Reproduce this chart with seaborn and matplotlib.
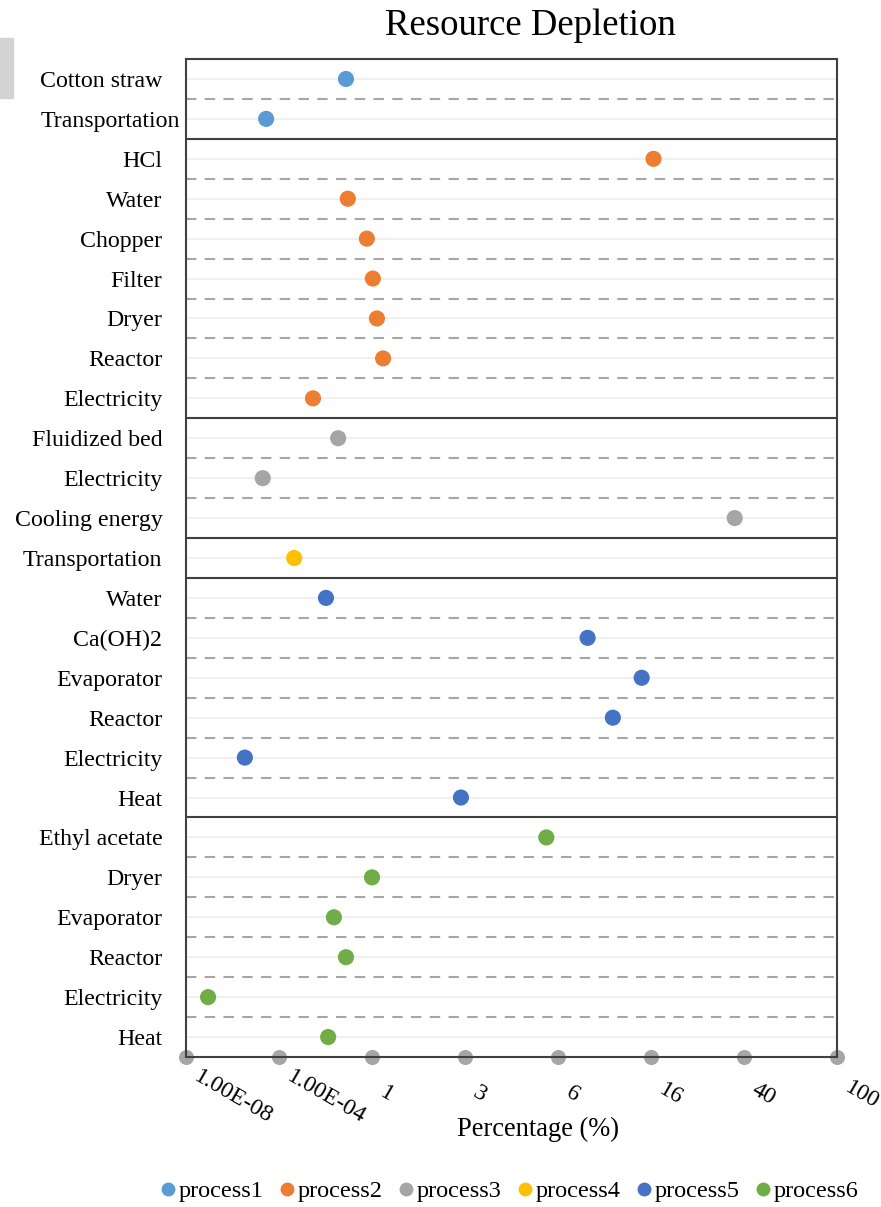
import numpy as np
import pandas as pd
import matplotlib
matplotlib.use('Agg')
import matplotlib.pyplot as plt
import matplotlib.transforms as mtransforms
from matplotlib.lines import Line2D
from matplotlib.patches import Rectangle
import seaborn as sns

# data
processes = ['process1'] * 2 + ['process2'] * 7 + ['process3'] * 3 + ['process4'] * 1 \
    + ['process5'] * 6 + ['process6'] * 6
items = ['Cotton straw', 'Transportation',
         'HCl', 'Water', 'Chopper', 'Filter', 'Dryer', 'Reactor', 'Electricity',
         'Fluidized bed', 'Electricity', 'Cooling energy',
         'Transportation',
         'Water', 'Ca(OH)2', 'Evaporator', 'Reactor', 'Electricity', 'Heat',
         'Ethyl acetate', 'Dryer', 'Evaporator', 'Reactor', 'Electricity', 'Heat']
percent = [0.076, 2.8e-5,
           16.4, 0.091, 0.6, 1.01, 1.06, 1.14, 0.0029,
           0.035, 2.0e-5, 36.5,
           4.5e-4,
           0.0105, 8.2, 14.5, 10.7, 3.4e-6, 2.86,
           5.5, 1.0, 0.023, 0.076, 8.9e-8, 0.013]

tick_vals = [1e-8, 1e-4, 1, 3, 6, 16, 40, 100]
tick_labels = ['1.00E-08', '1.00E-04', '1', '3', '6', '16', '40', '100']

palette = {'process1': '#5B9BD5', 'process2': '#ED7D31', 'process3': '#A5A5A5',
           'process4': '#FFC000', 'process5': '#4472C4', 'process6': '#70AD47'}

df = pd.DataFrame({'process': processes, 'item': items, 'value': percent})
df['row'] = np.arange(len(df))

sns.set_style('white')
plt.rcParams['font.family'] = ['Liberation Serif', 'DejaVu Serif']
plt.rcParams['text.color'] = 'black'
plt.rcParams['xtick.color'] = 'black'
plt.rcParams['ytick.color'] = 'black'
plt.rcParams['axes.labelcolor'] = 'black'

# piecewise log axis: equally spaced ticks at the chosen values
log_ticks = np.log10(tick_vals)
idx = np.arange(len(tick_vals), dtype=float)


def fwd(x):
    x = np.clip(np.asarray(x, dtype=float), 1e-12, None)
    return np.interp(np.log10(x), log_ticks, idx)


def inv(p):
    return 10 ** np.interp(np.asarray(p, dtype=float), idx, log_ticks)


fig = plt.figure(figsize=(8.81, 12.07), dpi=100)
ax = fig.add_axes([186 / 881, 1 - 1057 / 1207, (837 - 186) / 881, (1057 - 59) / 1207])
ax.set_xscale('function', functions=(fwd, inv))

n = len(df)
# light row lines, dashed separators, solid group borders
for r in range(n):
    ax.axhline(r, color='#f0f0f0', lw=1.5, zorder=0)
for r in range(n - 1):
    if df['process'][r] != df['process'][r + 1]:
        ax.axhline(r + 0.5, color='#404040', lw=1.5, zorder=1)
    else:
        ax.axhline(r + 0.5, color='#a6a6a6', lw=1.5, ls=(0, (5, 4)), zorder=1)

sns.scatterplot(data=df, x='value', y='row', hue='process', palette=palette,
                s=135, edgecolor='none', legend=False, ax=ax, zorder=3)

ax.set_xlim(1e-8, 100)
ax.set_ylim(n - 0.5, -0.5)
ax.set_yticks(range(n))
ax.set_yticklabels(df['item'], fontsize=17.2)
ax.tick_params(axis='y', left=False, length=0, pad=17)
ax.set_ylabel('')
# the first "Transportation" label sticks out to the right in the original
lab = ax.get_yticklabels()[1]
lab.set_transform(lab.get_transform()
                  + mtransforms.ScaledTranslation(18 / 100, 0, fig.dpi_scale_trans))

ax.set_xticks(tick_vals)
ax.set_xticklabels(tick_labels, fontsize=17, rotation=-30, ha='left', va='top',
                   rotation_mode='anchor')
ax.tick_params(axis='x', bottom=True, length=0, pad=0)
for t, lab in zip(ax.xaxis.get_major_ticks(), ax.get_xticklabels()):
    t.tick1line.set_marker('o')
    t.tick1line.set_markersize(10)
    t.tick1line.set_markerfacecolor('#a6a6a6')
    t.tick1line.set_markeredgecolor('#a6a6a6')
    t.tick1line.set_zorder(5)
    dy = 27 - 2.2 * len(lab.get_text())
    lab.set_transform(lab.get_transform()
                      + mtransforms.ScaledTranslation(15 / 100, -dy / 100, fig.dpi_scale_trans))

ax.set_xlabel('Percentage (%)', fontsize=19.1)
ax.xaxis.set_label_coords((538 - 186) / (837 - 186), -0.060)

for sp in ax.spines.values():
    sp.set_color('#404040')
    sp.set_linewidth(1.5)

fig.text(530 / 881, 1 - 35 / 1207, 'Resource Depletion', fontsize=26.5,
         ha='center', va='baseline')

# the grey block in the upper-left corner
fig.patches.append(Rectangle((0, 1 - 98 / 1207), 13 / 881, 60 / 1207,
                             transform=fig.transFigure, color='#d3d3d3'))

handles = [Line2D([], [], marker='o', ls='none', markersize=10,
                  markerfacecolor=c, markeredgecolor='none', label=p)
           for p, c in palette.items()]
fig.legend(handles=handles, loc='center', bbox_to_anchor=(509 / 881, 1 - 1191 / 1207),
           ncol=6, frameon=False, fontsize=17.5, handlelength=0.7,
           handletextpad=0.1, columnspacing=0.6)

fig.savefig('out.png', dpi=100)
